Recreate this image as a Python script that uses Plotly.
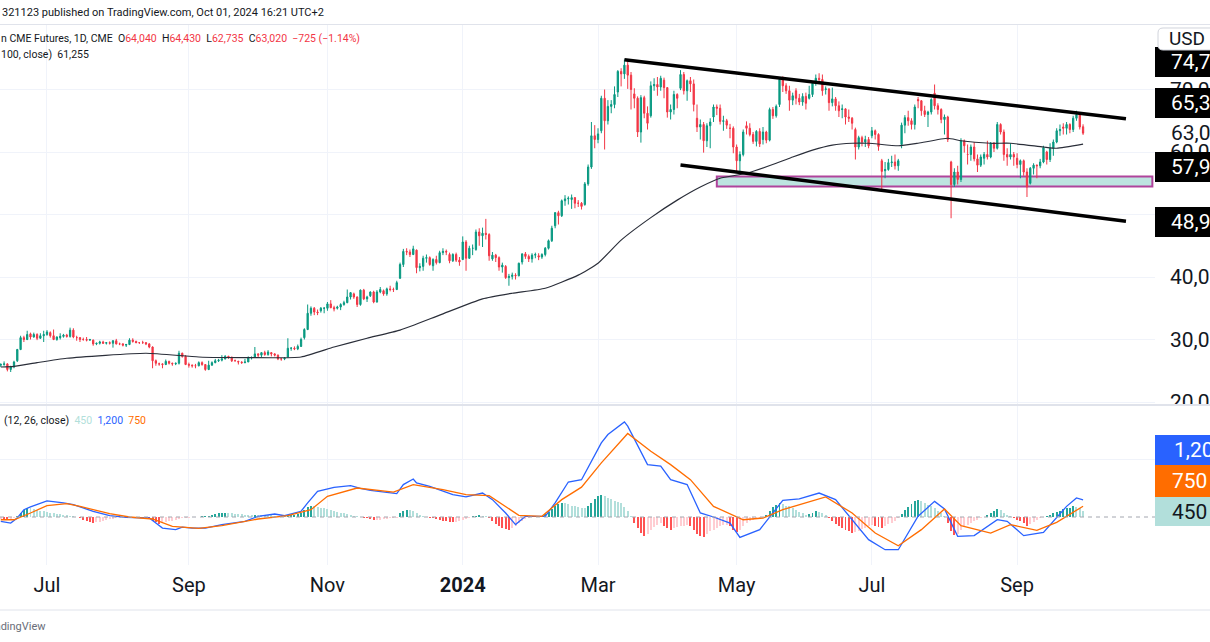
import pandas as pd
import plotly.graph_objects as go

W, H = 1210, 642
PW = 1155  # plot area width (price scale on the right)


def xp(px):
    return px / PW


def yp(py):
    return 1 - py / H


# ---------------- trading calendar (weekends + exchange holidays removed) ----------------
holidays = ["2023-06-19", "2023-07-04", "2023-09-04", "2023-11-23", "2023-12-25", "2024-01-01",
            "2024-01-15", "2024-02-19", "2024-03-29", "2024-05-27", "2024-06-19", "2024-07-04",
            "2024-09-02"]
first_bar = "2023-06-12"
last_bar = "2024-10-01"
axis_end = "2024-10-31"
days = [d.strftime("%Y-%m-%d") for d in pd.bdate_range(first_bar, axis_end)]
days = [d for d in days if d not in holidays]
pos = {d: i for i, d in enumerate(days)}
bar_dates = days[:pos[last_bar] + 1]

# ---------------- daily OHLC, thousands of USD ----------------
opens = [
    25.9, 26.0, 26.1, 25.2, 25.6, 26.6, 28.4, 30.3, 30.0, 30.9, 30.4, 30.8, 30.2, 30.6,
    30.8, 31.1, 30.6, 30.0, 30.3, 30.5, 30.7, 30.5, 31.5, 30.3, 30.3, 30.0, 30.0, 29.9, 29.9, 29.3, 29.4, 29.6, 29.4, 29.5,
    29.4, 29.8, 29.3, 29.3, 29.1, 29.2, 29.9, 29.7, 29.5, 29.5, 29.5, 29.3, 28.8, 26.6, 26.1, 26.1, 26.0, 26.5, 26.2, 26.1, 26.2, 27.8, 27.3,
    26.0, 25.9, 25.8, 25.8, 26.3, 26.0, 25.2, 25.9, 26.3, 26.6, 26.7, 26.9, 27.3, 27.2, 26.6, 26.5, 26.4, 26.3, 26.4, 27.1,
    27.2, 27.7, 27.5, 27.9, 27.6, 27.9, 27.7, 27.5, 26.9, 26.9, 27.2, 28.6, 28.6, 28.5, 28.9, 30.3, 31.6, 34.2, 35.0, 34.4, 34.6, 35.0,
    35.0, 35.7, 35.1, 35.0, 35.2, 35.6, 35.9, 36.8, 37.3, 36.8, 35.6, 37.9, 36.5, 37.0, 37.6, 36.0, 37.6, 37.8, 37.3, 38.1, 38.0,
    38.0, 39.8, 42.0, 44.1, 44.0, 43.6, 44.3, 41.5, 41.7, 43.0, 43.1, 41.8, 42.8, 42.3, 43.9, 44.1, 43.6, 42.6, 43.6, 42.7,
    42.8, 45.6, 43.0, 44.6, 44.4, 47.2, 46.6, 47.0, 46.8, 42.9, 43.5, 43.1, 41.6, 41.7, 39.9, 40.1, 40.3, 40.2, 42.4, 43.7, 43.3,
    42.9, 43.5, 43.4, 43.2, 43.6, 44.6, 45.8, 48.2, 50.3, 49.8, 52.2, 52.5, 52.4, 52.7, 51.8, 51.8, 51.6, 54.9, 57.6, 62.6,
    62.0, 63.4, 68.6, 65.0, 67.3, 67.6, 69.6, 72.9, 72.5, 73.9, 72.3, 69.3, 68.6, 63.2, 68.7, 66.2, 65.8, 70.6, 70.8, 70.4,
    71.5, 70.3, 66.4, 66.8, 69.2, 70.2, 72.4, 69.8, 71.4, 70.9, 65.4, 64.0, 64.4, 61.8, 64.2, 65.6, 67.2, 67.0, 64.9, 65.0, 63.8, 63.8,
    60.8, 58.6, 59.6, 64.2, 63.8, 62.8, 61.7, 63.3, 62.0, 63.2, 61.9, 66.8, 65.8, 67.6, 71.6, 70.6, 69.8, 68.3, 69.8, 68.6, 68.0, 68.9,
    68.6, 69.2, 71.0, 71.8, 71.6, 70.0, 70.1, 67.9, 68.5, 67.4, 66.8, 66.9, 65.6, 65.4, 63.6, 60.8, 62.3, 61.6, 62.0,
    62.6, 63.4, 62.8, 58.6, 57.0, 57.2, 58.3, 58.4, 57.8, 61.2, 64.3, 65.5, 65.0, 64.4, 68.4, 68.2, 66.6, 66.0, 66.4, 69.4, 67.4, 66.8,
    65.2, 65.6, 58.4, 54.8, 56.8, 55.6, 61.8, 59.6, 59.6, 60.8, 58.9, 57.9, 59.0, 59.6, 59.2, 61.4, 60.6, 64.4, 63.2, 59.6, 59.2, 59.6,
    59.0, 58.0, 58.6, 56.8, 55.0, 57.4, 57.9, 57.8, 58.4, 60.0, 58.8, 60.6, 61.6, 63.4, 64.0, 63.8, 64.4, 63.6, 65.4, 66.0, 64.04,
]
highs = [
    26.2, 26.5, 26.2, 25.8, 26.6, 28.5, 30.6, 30.6, 31.4, 31.1, 31.1, 31.0, 31.0, 31.4,
    31.5, 31.3, 31.6, 30.5, 31.0, 30.9, 30.9, 31.9, 31.8, 30.6, 30.4, 30.3, 30.4, 30.1, 30.0, 29.5, 29.8, 29.8, 29.6, 29.7,
    29.9, 30.1, 29.5, 29.4, 29.3, 30.2, 30.2, 29.8, 29.6, 29.8, 29.6, 29.4, 28.9, 26.8, 26.3, 26.2, 26.8, 26.6, 26.3, 26.3, 28.2, 27.9, 27.5,
    26.3, 26.0, 26.1, 26.5, 26.5, 26.0, 26.6, 26.5, 26.9, 26.9, 27.5, 27.5, 27.4, 27.2, 26.8, 26.6, 26.5, 26.9, 27.3, 27.3,
    28.8, 27.8, 28.0, 28.2, 28.3, 28.0, 27.8, 27.6, 27.0, 27.2, 30.2, 28.8, 28.9, 29.2, 30.3, 31.8, 35.6, 35.3, 35.2, 34.8, 35.2, 35.2,
    36.0, 36.3, 35.4, 35.4, 35.8, 36.2, 38.0, 37.6, 37.5, 36.9, 38.0, 38.1, 37.0, 37.7, 37.8, 37.9, 38.4, 38.0, 38.3, 38.6, 38.3,
    39.4, 42.3, 44.5, 44.6, 44.4, 45.0, 44.4, 42.2, 43.4, 43.6, 43.3, 43.0, 43.4, 44.2, 44.6, 44.4, 43.9, 43.8, 43.9, 43.2,
    46.5, 45.9, 45.0, 45.2, 47.6, 47.8, 47.9, 49.3, 47.0, 44.0, 43.7, 43.3, 42.3, 41.9, 40.5, 40.7, 40.6, 42.3, 43.8, 44.0, 43.6,
    43.8, 43.9, 43.8, 43.8, 44.8, 46.0, 48.2, 50.4, 50.6, 52.4, 53.1, 52.9, 53.2, 52.8, 52.3, 52.0, 55.2, 58.0, 64.8, 64.3,
    63.8, 69.0, 70.0, 68.3, 68.3, 70.5, 73.1, 73.4, 74.8, 74.5, 72.8, 70.2, 68.9, 69.1, 69.0, 67.3, 71.3, 71.8, 72.0, 72.2,
    71.9, 70.4, 67.6, 69.8, 69.4, 73.1, 72.8, 71.6, 72.0, 71.6, 67.6, 65.2, 64.8, 64.6, 65.4, 67.6, 67.6, 67.6, 65.8, 65.3, 64.5, 64.1,
    61.2, 60.1, 63.6, 64.9, 64.6, 63.2, 63.5, 63.8, 64.0, 63.4, 67.1, 67.2, 67.6, 71.9, 72.1, 71.0, 70.6, 69.5, 70.2, 69.3, 69.4, 69.5,
    70.6, 71.3, 72.4, 72.6, 72.4, 70.5, 70.2, 70.3, 68.8, 68.1, 67.6, 67.0, 66.8, 65.6, 63.9, 62.6, 62.6, 62.6, 62.4,
    64.0, 63.6, 63.0, 58.9, 58.4, 58.9, 59.4, 59.6, 58.9, 64.7, 65.9, 66.6, 65.4, 67.6, 68.8, 68.3, 67.4, 66.6, 68.6, 70.8, 67.8, 67.0,
    66.0, 65.8, 58.6, 57.4, 57.8, 62.2, 62.0, 61.2, 61.2, 61.6, 59.6, 59.6, 60.0, 61.8, 61.6, 61.6, 64.8, 64.6, 63.6, 60.6, 61.4, 60.0,
    59.8, 58.8, 58.8, 57.4, 57.6, 58.2, 58.0, 58.9, 61.0, 60.2, 61.4, 62.0, 63.8, 64.4, 64.6, 64.8, 64.6, 65.8, 66.6, 66.2, 64.43,
]
lows = [
    25.6, 25.8, 24.9, 24.8, 25.4, 26.4, 28.3, 29.6, 29.9, 30.0, 30.3, 29.9, 30.1, 29.6,
    30.6, 30.3, 29.9, 29.8, 30.0, 30.3, 30.3, 30.3, 30.2, 29.8, 29.6, 29.8, 29.7, 29.8, 29.0, 29.1, 29.2, 29.3, 29.2, 29.2,
    28.7, 29.2, 29.1, 28.9, 28.8, 29.1, 29.5, 29.4, 29.3, 29.3, 29.1, 28.6, 25.4, 25.8, 25.8, 25.4, 25.9, 26.0, 25.8, 25.9, 26.0, 27.1, 25.9,
    25.5, 25.5, 25.4, 25.7, 25.8, 25.0, 25.1, 25.8, 26.2, 26.4, 26.5, 26.8, 26.9, 26.4, 26.5, 26.0, 26.1, 26.2, 26.4, 26.8,
    27.1, 27.2, 27.2, 27.4, 27.4, 27.3, 27.3, 26.7, 26.6, 26.7, 27.1, 28.2, 28.3, 28.3, 28.8, 30.0, 31.5, 33.8, 33.9, 33.9, 34.3, 34.2,
    34.6, 35.0, 34.5, 34.8, 34.7, 35.4, 35.8, 36.4, 36.5, 35.2, 35.4, 36.3, 36.0, 36.8, 35.8, 35.9, 37.4, 37.0, 37.0, 37.7, 37.6,
    37.9, 39.7, 41.6, 43.5, 43.2, 43.5, 40.6, 40.9, 41.0, 42.3, 41.8, 41.0, 42.0, 42.2, 43.5, 43.5, 42.2, 42.4, 42.4, 41.8,
    42.7, 41.0, 42.9, 43.5, 44.2, 45.0, 44.8, 46.0, 42.6, 42.6, 42.4, 41.0, 40.7, 39.7, 38.6, 39.6, 39.6, 40.1, 42.0, 42.9, 42.4,
    42.3, 43.0, 42.7, 42.9, 43.3, 44.4, 45.6, 47.8, 48.4, 49.6, 51.4, 51.6, 50.9, 51.0, 51.2, 50.8, 51.4, 54.6, 57.3, 60.6,
    61.4, 63.0, 60.4, 64.4, 66.2, 67.0, 68.8, 70.5, 71.7, 70.1, 66.8, 67.0, 62.4, 61.5, 65.4, 63.6, 65.5, 69.8, 69.0, 69.8,
    68.6, 65.5, 65.2, 66.0, 67.0, 69.9, 69.2, 68.2, 69.6, 66.5, 63.2, 62.0, 59.9, 60.8, 60.6, 64.8, 65.9, 64.4, 63.4, 63.7, 62.2, 59.8,
    56.7, 56.9, 59.3, 62.8, 62.5, 61.3, 60.9, 60.8, 61.2, 61.4, 61.7, 65.3, 65.5, 67.2, 69.6, 69.3, 66.6, 67.5, 67.6, 67.5, 67.4, 66.8,
    68.4, 68.8, 70.6, 71.0, 69.0, 69.2, 66.6, 67.3, 66.6, 65.6, 65.4, 64.4, 64.8, 63.6, 58.8, 60.4, 60.9, 60.8, 60.6,
    62.2, 62.0, 60.2, 53.6, 55.8, 57.0, 57.6, 57.2, 57.0, 60.6, 63.0, 64.2, 63.6, 63.6, 67.0, 65.8, 65.6, 64.0, 66.0, 66.8, 66.0, 64.6,
    62.8, 61.6, 49.4, 54.4, 54.8, 55.2, 59.9, 58.0, 58.6, 58.5, 56.8, 57.6, 58.0, 58.8, 59.0, 60.0, 60.4, 62.8, 58.6, 57.8, 58.8, 57.8,
    57.4, 55.8, 56.2, 52.8, 54.8, 56.4, 55.8, 57.4, 58.2, 58.0, 58.4, 59.4, 61.4, 62.6, 62.8, 62.8, 63.0, 63.2, 65.0, 63.6, 62.735,
]
closes = [
    26.0, 26.1, 25.2, 25.6, 26.4, 28.4, 30.3, 30.0, 30.8, 30.4, 30.8, 30.2, 30.6, 30.8,
    31.2, 30.6, 30.0, 30.4, 30.5, 30.7, 30.5, 31.5, 30.4, 30.3, 30.0, 30.0, 29.9, 30.0, 29.3, 29.4, 29.6, 29.4, 29.5, 29.4,
    29.8, 29.3, 29.3, 29.1, 29.2, 29.9, 29.7, 29.5, 29.5, 29.5, 29.3, 28.8, 26.6, 26.2, 26.1, 26.0, 26.5, 26.2, 26.1, 26.2, 27.8, 27.3, 26.0,
    25.9, 25.8, 25.8, 26.3, 26.0, 25.2, 25.9, 26.3, 26.6, 26.7, 26.9, 27.3, 27.2, 26.6, 26.6, 26.4, 26.3, 26.4, 27.1, 27.1,
    27.7, 27.5, 27.9, 27.6, 28.0, 27.7, 27.5, 26.9, 26.9, 27.0, 28.6, 28.6, 28.5, 28.9, 30.0, 31.6, 34.2, 35.0, 34.4, 34.3, 35.0, 35.0,
    35.7, 35.1, 34.9, 35.2, 35.6, 35.9, 36.8, 37.5, 36.8, 35.6, 37.9, 36.5, 36.8, 37.6, 36.0, 37.6, 38.0, 37.3, 38.1, 38.0, 38.0,
    39.1, 42.0, 44.1, 44.0, 43.6, 44.5, 41.5, 41.7, 43.0, 43.1, 42.0, 42.8, 42.3, 43.9, 44.1, 44.0, 42.6, 43.6, 42.7, 42.4,
    45.6, 43.0, 44.6, 44.6, 47.2, 46.6, 47.0, 46.8, 43.4, 43.5, 43.1, 41.6, 41.9, 39.9, 40.1, 40.3, 40.2, 42.2, 43.7, 43.3, 42.9,
    43.5, 43.6, 43.2, 43.6, 44.6, 45.8, 47.8, 50.3, 49.8, 52.2, 52.5, 52.6, 52.7, 51.8, 51.8, 51.3, 54.9, 57.6, 62.6, 62.0,
    62.9, 68.6, 65.0, 67.3, 67.6, 69.2, 72.9, 72.5, 73.9, 72.3, 70.0, 68.6, 63.2, 68.7, 66.2, 64.6, 70.6, 70.8, 70.4, 71.8,
    70.3, 66.4, 66.8, 69.2, 68.6, 72.4, 69.8, 71.4, 70.9, 67.6, 64.0, 64.4, 61.8, 64.2, 64.8, 67.2, 67.0, 64.9, 65.0, 64.3, 63.8, 60.8,
    58.6, 59.6, 63.2, 63.8, 62.8, 61.7, 63.3, 61.3, 63.2, 61.9, 66.8, 65.8, 67.3, 71.6, 70.6, 69.8, 68.3, 69.0, 68.6, 68.0, 68.9, 67.8,
    69.2, 71.0, 71.8, 71.6, 69.8, 70.1, 67.9, 68.5, 67.4, 66.6, 66.9, 65.6, 65.4, 64.6, 60.8, 62.3, 61.6, 62.0, 61.0,
    63.4, 62.8, 60.9, 56.9, 57.2, 58.3, 58.4, 57.8, 58.6, 64.3, 65.5, 65.0, 64.4, 67.2, 68.2, 66.6, 66.0, 66.4, 68.4, 67.4, 66.8, 65.2,
    65.6, 62.0, 54.8, 56.8, 55.6, 61.8, 61.0, 59.6, 60.8, 58.9, 57.9, 59.2, 59.6, 59.2, 61.4, 60.6, 64.4, 63.2, 59.6, 59.2, 59.6, 59.2,
    58.0, 58.6, 56.8, 54.4, 57.4, 57.9, 57.8, 58.4, 60.7, 58.8, 60.6, 61.6, 63.4, 63.6, 63.8, 64.4, 63.6, 65.4, 66.0, 64.0, 63.02,
]

# ---------------- MA(100, close), USD ----------------
ma_dates = ["2023-06-12", "2023-06-16", "2023-06-28", "2023-07-12", "2023-08-15", "2023-09-07", "2023-09-28",
            "2023-10-20", "2023-11-03", "2023-11-17", "2023-12-04", "2023-12-20", "2024-01-10", "2024-01-24",
            "2024-02-07", "2024-02-22", "2024-03-01", "2024-03-12", "2024-03-25", "2024-04-05", "2024-04-16",
            "2024-04-24", "2024-05-06", "2024-05-17", "2024-05-24", "2024-06-04", "2024-06-12", "2024-06-21",
            "2024-06-28", "2024-07-12", "2024-07-22", "2024-08-02", "2024-08-08", "2024-08-21", "2024-08-29",
            "2024-09-13", "2024-09-19", "2024-10-01"]
ma_vals = [25600, 25700, 26300, 27000, 27800, 27200, 27100, 27200, 28800, 30200, 31500, 33900, 36500, 37400,
           38200, 40300, 42200, 45900, 49500, 52300, 54400, 55800, 56600, 58200, 59200, 60300, 61100, 61400,
           61400, 61000, 61400, 62200, 61800, 61400, 61400, 60800, 60600, 61255]

# ---------------- MACD(12, 26, close) ----------------
macd_dates = ["2023-06-12", "2023-06-15", "2023-06-20", "2023-06-22", "2023-06-26", "2023-07-03", "2023-07-11",
              "2023-07-14", "2023-07-24", "2023-07-31", "2023-08-07", "2023-08-16", "2023-08-18", "2023-08-22",
              "2023-08-28", "2023-08-30", "2023-09-05", "2023-09-11", "2023-09-18", "2023-09-27", "2023-10-03",
              "2023-10-10", "2023-10-13", "2023-10-20", "2023-10-24", "2023-10-27", "2023-11-03", "2023-11-10",
              "2023-11-15", "2023-11-20", "2023-12-01", "2023-12-05", "2023-12-08", "2023-12-11", "2023-12-15",
              "2023-12-27", "2024-01-03", "2024-01-10", "2024-01-16", "2024-01-22", "2024-01-25", "2024-01-30",
              "2024-02-07", "2024-02-12", "2024-02-16", "2024-02-23", "2024-03-04", "2024-03-06", "2024-03-13",
              "2024-03-14", "2024-03-22", "2024-03-28", "2024-04-03", "2024-04-10", "2024-04-16", "2024-04-22",
              "2024-04-29", "2024-05-02", "2024-05-10", "2024-05-21", "2024-05-29", "2024-06-06", "2024-06-13",
              "2024-06-21", "2024-06-28", "2024-07-08", "2024-07-12", "2024-07-22", "2024-07-29", "2024-08-01",
              "2024-08-07", "2024-08-14", "2024-08-23", "2024-08-28", "2024-09-05", "2024-09-13", "2024-09-24",
              "2024-09-27", "2024-10-01"]
macd_vals = [-300, -420, -70, 510, 700, 1120, 980, 860, 400, 90, -20, -70, -420, -770, -880, -700, -770, -770,
             -530, -300, 50, 210, 90, 400, 980, 1790, 2070, 2190, 2000, 1860, 1630, 2260, 2650, 2370, 2140, 1560,
             1400, 1670, 1210, 280, -530, 50, 50, 980, 2440, 2600, 5160, 5750, 6630, 6330, 3650, 3540, 2600, 2260,
             280, 0, -420, -1420, -880, 1160, 1260, 1670, 1210, -190, -1580, -2280, -2280, 50, 1090, 560, -1350,
             -1300, -190, -300, -1300, -1070, 740, 1330, 1200]
signal_dates = ["2023-06-12", "2023-06-16", "2023-06-26", "2023-07-03", "2023-07-12", "2023-07-18", "2023-07-31",
                "2023-08-08", "2023-08-17", "2023-08-25", "2023-09-07", "2023-09-18", "2023-10-03", "2023-10-16",
                "2023-10-25", "2023-11-01", "2023-11-14", "2023-11-30", "2023-12-08", "2023-12-21", "2024-01-03",
                "2024-01-12", "2024-01-26", "2024-02-06", "2024-02-14", "2024-02-23", "2024-03-04", "2024-03-14",
                "2024-03-25", "2024-04-03", "2024-04-11", "2024-04-22", "2024-05-03", "2024-05-13", "2024-05-21",
                "2024-06-10", "2024-06-21", "2024-07-02", "2024-07-12", "2024-07-23", "2024-08-01", "2024-08-08",
                "2024-08-21", "2024-08-29", "2024-09-11", "2024-09-19", "2024-10-01"]
signal_vals = [-190, -190, 280, 790, 930, 740, 230, 0, -140, -650, -790, -600, -140, 90, 510, 1440, 2020, 1740,
               2260, 1910, 1560, 1490, 120, 50, 1210, 2080, 3770, 5820, 4580, 3650, 2600, 740, -190, -70, 510,
               1400, 280, -1120, -2000, -880, 560, -600, -1120, -530, -930, -370, 750]
hist = [
    -120, -150, -180, -160, -100, 50, 300, 500, 630, 600, 560, 500, 450, 400,
    350, 300, 260, 200, 180, 150, 120, 80, 40, -30, -100, -180, -250, -320, -400, -380, -330, -280, -220, -160,
    -120, -100, -90, -70, -40, 0, 20, 10, -10, -30, -60, -100, -250, -380, -460, -420, -350, -300, -250, -200, -120, -100, -60,
    -40, -20, 0, 20, 40, 60, 100, 150, 200, 250, 280, 300, 280, 250, 220, 200, 180, 170, 150, 140,
    160, 150, 140, 130, 120, 110, 90, 70, 60, 50, 120, 150, 170, 200, 300, 500, 700, 790, 760, 720, 660, 600,
    540, 480, 420, 360, 300, 250, 200, 150, 100, 50, 0, -50, -100, -150, -200, -200, -180, -150, -120, -100, -80,
    -50, 250, 450, 510, 480, 420, 250, 150, 80, 20, -50, -100, -150, -200, -250, -300, -340, -370, -330, -280,
    -200, -150, -50, 50, 100, 120, 100, 50, -100, -300, -500, -650, -780, -850, -880, -780, -600, -400, -250, -120, -50,
    -20, 0, 30, 100, 200, 350, 550, 750, 900, 980, 950, 900, 800, 750, 700, 650, 600, 740, 1000, 1250,
    1450, 1560, 1450, 1350, 1250, 1150, 1050, 980, 700, 400, 50, -400, -800, -1100, -1300, -1200, -900, -700, -550, -450,
    -600, -800, -880, -800, -700, -650, -600, -550, -650, -900, -1150, -1300, -1400, -1200, -1000, -880, -750, -650, -580, -530, -600, -900,
    -1070, -900, -600, -400, -250, -190, -100, -50, 0, 150, 400, 700, 850, 980, 900, 800, 740, 600, 480, 350, 250, 160,
    200, 300, 400, 380, 300, 150, -100, -300, -500, -650, -800, -900, -1000, -1100, -1050, -950, -850, -750, -650,
    -550, -600, -700, -770, -650, -500, -400, -250, -100, 200, 500, 700, 900, 1100, 1200, 1150, 1000, 850, 740, 600, 450, 280,
    50, -400, -1000, -1230, -1150, -900, -700, -550, -420, -300, -200, -70, 0, 150, 280, 400, 560, 500, 300, 150, 50, -50,
    -190, -300, -450, -600, -500, -350, -200, -100, 0, 100, 160, 250, 350, 450, 550, 600, 650, 740, 700, 600, 450,
]

# ---------------- drawings ----------------
upper_line = {"dates": ["2024-03-13", "2024-10-18"], "prices": [74745, 65330]}
lower_line = {"dates": ["2024-04-08", "2024-10-18"], "prices": [57925, 48935]}
zone = {"dates": ["2024-04-23", "2024-10-30"], "prices": [54500, 56100]}

tick_dates = ["2023-07-03", "2023-09-01", "2023-11-01", "2024-01-02", "2024-03-01", "2024-05-01", "2024-07-01", "2024-09-03"]
tick_text = ["Jul", "Sep", "Nov", "<b>2024</b>", "Mar", "May", "Jul", "Sep"]
price_ticks = [20000, 30000, 40000, 50000, 60000, 70000]

UP, DN = "#089981", "#f23645"
K = 1000

n = min(len(bar_dates), len(opens), len(highs), len(lows), len(closes))
idx = list(range(n))

fig = go.Figure()
fig.add_trace(go.Candlestick(
    x=idx, open=[v * K for v in opens[:n]], high=[v * K for v in highs[:n]],
    low=[v * K for v in lows[:n]], close=[v * K for v in closes[:n]],
    increasing=dict(line=dict(color=UP, width=1), fillcolor=UP),
    decreasing=dict(line=dict(color=DN, width=1), fillcolor=DN),
    whiskerwidth=0, hoverinfo="skip", xaxis="x", yaxis="y"))
fig.add_trace(go.Scatter(x=[pos[d] for d in ma_dates], y=ma_vals, mode="lines",
                         line=dict(color="#2a2e39", width=1.2, shape="spline", smoothing=0.5),
                         hoverinfo="skip", xaxis="x", yaxis="y"))

nh = min(n, len(hist))
hcolors = []
for i in range(nh):
    v = hist[i]
    p = hist[i - 1] if i > 0 else v
    if v >= 0:
        hcolors.append("#26a69a" if v > p else "#b2dfdb")
    else:
        hcolors.append("#ff5252" if v < p else "#ffcdd2")
fig.add_trace(go.Bar(x=idx[:nh], y=hist[:nh], marker=dict(color=hcolors, line=dict(width=0)), width=0.6,
                     hoverinfo="skip", xaxis="x", yaxis="y2"))
fig.add_trace(go.Scatter(x=[pos[d] for d in macd_dates], y=macd_vals, mode="lines",
                         line=dict(color="#2962ff", width=1.3), hoverinfo="skip", xaxis="x", yaxis="y2"))
fig.add_trace(go.Scatter(x=[pos[d] for d in signal_dates], y=signal_vals, mode="lines",
                         line=dict(color="#ff6d00", width=1.3), hoverinfo="skip", xaxis="x", yaxis="y2"))

shapes = []
# support zone
shapes.append(dict(type="rect", xref="x", yref="y", layer="between",
                   x0=pos[zone["dates"][0]], x1=pos[zone["dates"][1]], y0=zone["prices"][0], y1=zone["prices"][1],
                   fillcolor="rgba(178,223,219,0.85)", line=dict(color="#b0449c", width=2)))
# channel lines
for ln in (upper_line, lower_line):
    shapes.append(dict(type="line", xref="x", yref="y", layer="above",
                       x0=pos[ln["dates"][0]], x1=pos[ln["dates"][1]], y0=ln["prices"][0], y1=ln["prices"][1],
                       line=dict(color="#000000", width=3.5)))
# MACD zero line
shapes.append(dict(type="line", xref="paper", yref="y2", x0=0, x1=1, y0=0, y1=0,
                   line=dict(color="#a3a6af", width=1, dash="4px,4px"), layer="above"))
# price-scale area of the MACD pane hides the overflow of the lowest price label
shapes.append(dict(type="rect", xref="paper", yref="paper", layer="above", x0=xp(1156), x1=xp(1215),
                   y0=yp(434), y1=yp(405), fillcolor="#ffffff", line=dict(width=0)))
# pane separators
for py, col, w in ((24.5, "#e0e3eb", 1), (405, "#e0e3eb", 2), (610, "#e0e3eb", 1)):
    shapes.append(dict(type="line", xref="paper", yref="paper", x0=xp(0), x1=xp(W), y0=yp(py), y1=yp(py),
                       line=dict(color=col, width=w), layer="above"))


def box(y0, y1, color):
    return dict(type="rect", xref="paper", yref="paper", layer="above", x0=xp(1155), x1=xp(1215),
                y0=yp(y1), y1=yp(y0), fillcolor=color, line=dict(width=0))


# price-scale tags
shapes.append(box(47, 77, "#000000"))
shapes.append(box(88, 118, "#000000"))
shapes.append(box(152, 182, "#000000"))
shapes.append(box(207, 237, "#000000"))
shapes.append(box(435, 465, "#2962ff"))
shapes.append(box(465, 497, "#ff6d00"))
shapes.append(box(497, 526, "#b2dfdb"))
# USD box with rounded left corners
p = lambda x, y: f"{xp(x):.5f},{yp(y):.5f}"
usd_path = (f"M {p(1163, 28)} L {p(1215, 28)} L {p(1215, 50)} L {p(1163, 50)} "
            f"Q {p(1158, 50)} {p(1158, 45)} L {p(1158, 33)} Q {p(1158, 28)} {p(1163, 28)} Z")
shapes.append(dict(type="path", xref="paper", yref="paper", layer="above", path=usd_path,
                   fillcolor="#ffffff", line=dict(color="#d1d4dc", width=1)))

RED = "#f23645"


def ann(x, y, text, size, color="#131722", anchor="left"):
    return dict(xref="paper", yref="paper", x=xp(x), y=yp(y), xanchor=anchor, yanchor="middle",
                text=text, showarrow=False, font=dict(size=size, color=color))


def red(t):
    return f"<span style='color:{RED}'>{t}</span>"


SP = "&nbsp; "
annotations = [
    ann(0, 13, "321123 published on TradingView.com, Oct 01, 2024 16:21 UTC+2", 11),
    ann(-1, 38, "n CME Futures, 1D, CME" + SP + "O" + red("64,040") + SP + "H" + red("64,430")
        + SP + "L" + red("62,735") + SP + "C" + red("63,020") + SP + red("−725 (−1.14%)"), 10.5),
    ann(-1, 54, "100, close)" + SP + "61,255", 10.5),
    ann(2, 420, "(12, 26, close)" + SP + "<span style='color:#b2dfdb'>450</span>" + SP
        + "<span style='color:#2962ff'>1,200</span>" + SP + "<span style='color:#ff6d00'>750</span>", 10.5),
    ann(48, 626, "TradingView", 11, "#6a6d78", "right"),
    ann(1169, 62, "74,745", 21, "#ffffff"),
    ann(1169, 103, "65,330", 21, "#ffffff"),
    ann(1169, 133, "63,020", 21),
    ann(1169, 167, "57,925", 21, "#ffffff"),
    ann(1169, 222, "48,935", 21, "#ffffff"),
    ann(1167, 39, "USD", 19),
    ann(1172, 450, "1,200", 21, "#ffffff"),
    ann(1170, 481, "750", 21, "#ffffff"),
    ann(1170, 511.5, "450", 21, "#131722"),
]

GRID = "#f0f3fa"
fig.update_layout(
    width=W, height=H, margin=dict(l=0, r=W - PW, t=0, b=0, pad=0, autoexpand=False),
    paper_bgcolor="#ffffff", plot_bgcolor="#ffffff", showlegend=False, hovermode=False,
    font=dict(family="Roboto, 'Noto Sans', sans-serif", color="#131722"),
    boxgap=0.45, bargap=0,
    xaxis=dict(domain=[0, 1], anchor="y2", range=[-0.24, 349.8], automargin=False,
               tickvals=[pos[d] for d in tick_dates], ticktext=tick_text,
               showgrid=True, gridcolor=GRID, gridwidth=1, zeroline=False, showline=False, ticks="",
               tickfont=dict(size=20, color="#131722"), ticklabelstandoff=6,
               rangeslider=dict(visible=False), fixedrange=True),
    yaxis=dict(domain=[yp(405), yp(25)], anchor="x", side="right", range=[19520, 80320], automargin=False,
               tickvals=price_ticks, tickformat=",", showgrid=True, gridcolor=GRID, zeroline=False,
               showline=False, ticks="", tickfont=dict(size=21, color="#131722"), ticklabelstandoff=14,
               fixedrange=True),
    yaxis2=dict(domain=[yp(565), yp(405)], anchor="x", side="right", range=[-3345, 7805], automargin=False,
                tickvals=[4000], showticklabels=False, showgrid=True, gridcolor=GRID, zeroline=False,
                showline=False, ticks="", fixedrange=True),
    shapes=shapes, annotations=annotations,
)

fig.write_html("out.html", config={"staticPlot": True},
               post_script="document.body.style.margin='0';document.body.style.overflow='hidden';")
